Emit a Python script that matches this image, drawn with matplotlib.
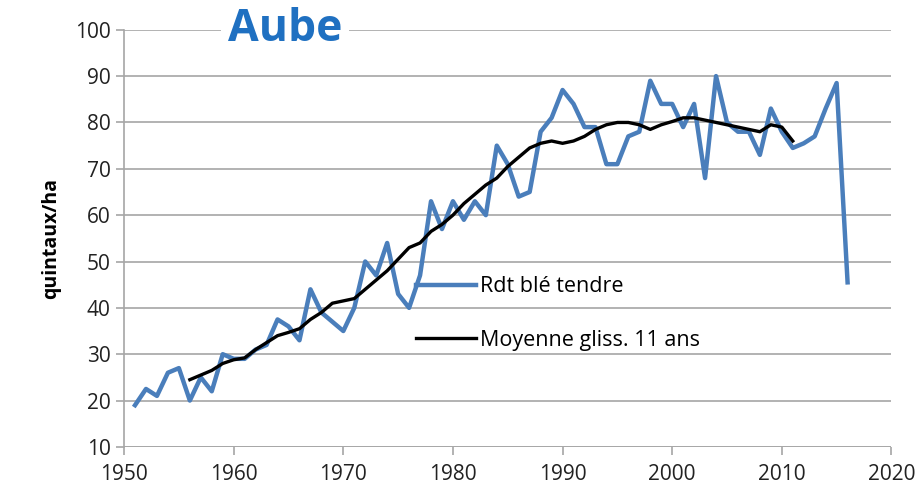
import numpy as np
import matplotlib.pyplot as plt

# Rendement blé tendre, Aube (quintaux/ha)
years = list(range(1951, 2017))
rdt = [19, 22.5, 21, 26, 27, 20, 25, 22, 30, 29,
       29, 31, 32, 37.5, 36, 33, 44, 39, 37, 35,
       40, 50, 47, 54, 43, 40, 47, 63, 57, 63,
       59, 63, 60, 75, 71, 64, 65, 78, 81, 87,
       84, 79, 79, 71, 71, 77, 78, 89, 84, 84,
       79, 84, 68, 90, 80, 78, 78, 73, 83, 78,
       74.5, 75.5, 77, 83, 88.5, 45.5]

# moyenne glissante 11 ans
years_mm = list(range(1956, 2012))
moy = [24.5, 25.5, 26.5, 28, 28.8, 29.2, 31, 32.5, 34, 34.7,
       35.5, 37.5, 39, 41, 41.5, 42, 44, 46, 48, 50.5,
       53, 54, 56.5, 58, 60, 62.5, 64.5, 66.5, 68, 70.5,
       72.5, 74.5, 75.5, 76, 75.5, 76, 77, 78.5, 79.5, 80,
       80, 79.5, 78.5, 79.5, 80.2, 81, 81, 80.5, 80, 79.5,
       79, 78.5, 78, 79.5, 79, 76]

plt.rcParams['font.family'] = ['Open Sans', 'DejaVu Sans']

fig = plt.figure(figsize=(9.19, 4.96), dpi=100)
ax = fig.add_axes([0.135, 0.099, 0.835, 0.841])

ax.plot(years, rdt, color='#4A7EBB', lw=3.2, label='Rdt blé tendre', zorder=3)
ax.plot(years_mm, moy, color='black', lw=2.4, label='Moyenne gliss. 11 ans', zorder=4)

ax.set_xlim(1950, 2020)
ax.set_ylim(10, 100)
ax.set_xticks(range(1950, 2021, 10))
ax.set_yticks(range(10, 101, 10))
ax.grid(axis='y', color='#a6a6a6', lw=1.2)
ax.set_axisbelow(True)
for s in ['top', 'right', 'bottom']:
    ax.spines[s].set_visible(False)
ax.spines['left'].set_color('#a6a6a6')
ax.spines['left'].set_linewidth(1.2)
ax.tick_params(axis='both', labelsize=15, colors='#a6a6a6', labelcolor='#222222', length=6, width=1.2)
ax.tick_params(axis='x', pad=6)
ax.axhline(10, color='#a6a6a6', lw=1.2, zorder=1)

ax.set_ylabel('quintaux/ha', fontsize=14, fontweight='bold', labelpad=10)

ax.text(0.135, 1.0, 'Aube', transform=ax.transAxes, fontsize=32, fontweight='bold',
        color='#1F70C1', ha='left', va='center',
        bbox=dict(facecolor='white', edgecolor='none', pad=5))

ax.legend(loc='upper left', bbox_to_anchor=(0.355, 0.455), frameon=False, fontsize=15.5,
          handlelength=2.8, labelspacing=1.5, handletextpad=0.2)

fig.savefig('out.png', dpi=100)
